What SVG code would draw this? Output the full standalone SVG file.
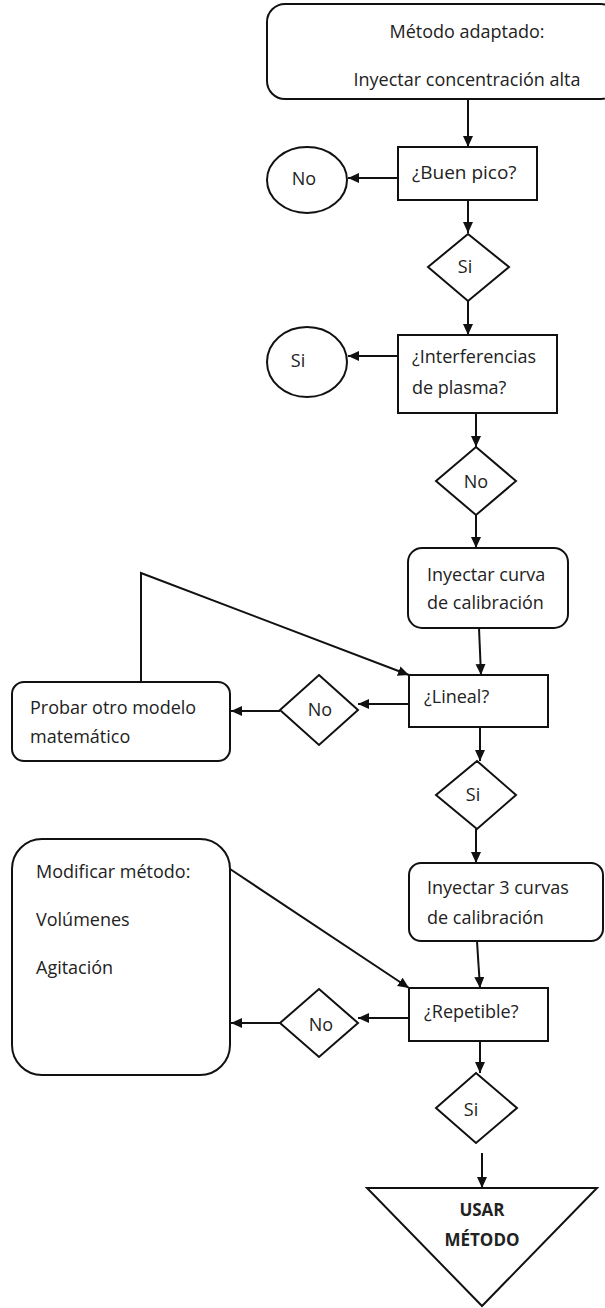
<svg xmlns="http://www.w3.org/2000/svg" width="605" height="1308" viewBox="0 0 605 1308">
<defs>
<marker id="ah" markerUnits="userSpaceOnUse" markerWidth="12" markerHeight="12" refX="11" refY="6" orient="auto">
<path d="M0,1 L11,6 L0,11 Z" fill="#111"/>
</marker>
<style>
.n{fill:#fff;stroke:#111;stroke-width:2}
.t{font-family:"Open Sans","Noto Sans",sans-serif;font-size:18px;fill:#222}
.c{text-anchor:middle}
.b{font-weight:bold;font-size:17px}
.e{fill:none;stroke:#111;stroke-width:2;marker-end:url(#ah)}
.l{fill:none;stroke:#111;stroke-width:2}
</style>
</defs>
<rect width="605" height="1308" fill="#fff"/>
<g id="connectors">
<path class="e" d="M468,99 V147"/>
<path class="e" d="M398,178 H348"/>
<path class="e" d="M468,200 V233"/>
<path class="e" d="M468,301 V335"/>
<path class="e" d="M398,356 H348"/>
<path class="e" d="M476,413 V447"/>
<path class="e" d="M476,515 V548"/>
<path class="e" d="M479,628 L481,675"/>
<path class="e" d="M409,704 H358"/>
<path class="e" d="M280,711 H231"/>
<path class="e" d="M141,682 V573 L409,675"/>
<path class="e" d="M480,727 V761"/>
<path class="e" d="M476,829 V863"/>
<path class="e" d="M477,941 L480,988"/>
<path class="e" d="M409,1018 H358"/>
<path class="e" d="M280,1023 H231"/>
<path class="e" d="M230,869 L409,988"/>
<path class="e" d="M480,1041 V1073"/>
<path class="e" d="M482,1153 V1188"/>
</g>
<g id="start">
<rect class="n" x="267" y="4" width="352" height="95" rx="18"/>
<text class="t c" x="467" y="38">Método adaptado:</text>
<text class="t c" x="467" y="86">Inyectar concentración alta</text>
</g>
<g id="q-buen-pico">
<rect class="n" x="398" y="147" width="139" height="53"/>
<text class="t" x="412" y="179" style="font-size:19px">¿Buen pico?</text>
</g>
<g id="c-no">
<ellipse class="n" cx="307" cy="180" rx="40" ry="33"/>
<text class="t c" x="304" y="185">No</text>
</g>
<g id="d-si-1">
<polygon class="n" points="468,234 509,267 468,301 428,267"/>
<text class="t c" x="465" y="273">Si</text>
</g>
<g id="q-interferencias">
<rect class="n" x="398" y="335" width="159" height="78"/>
<text class="t" x="412" y="363">¿Interferencias</text>
<text class="t" x="412" y="394">de plasma?</text>
</g>
<g id="c-si">
<ellipse class="n" cx="307" cy="362" rx="40" ry="35"/>
<text class="t c" x="298" y="367">Si</text>
</g>
<g id="d-no-1">
<polygon class="n" points="476,447 516,481 476,515 436,481"/>
<text class="t c" x="476" y="488">No</text>
</g>
<g id="p-curva">
<rect class="n" x="408" y="548" width="160" height="80" rx="14"/>
<text class="t" x="427" y="581">Inyectar curva</text>
<text class="t" x="427" y="609">de calibración</text>
</g>
<g id="q-lineal">
<rect class="n" x="409" y="675" width="139" height="52"/>
<text class="t" x="424" y="703">¿Lineal?</text>
</g>
<g id="d-no-2">
<polygon class="n" points="319,675 358,710 319,745 280,710"/>
<text class="t c" x="320" y="716">No</text>
</g>
<g id="p-probar">
<rect class="n" x="12" y="682" width="218" height="79" rx="12"/>
<text class="t" x="30" y="714">Probar otro modelo</text>
<text class="t" x="30" y="743">matemático</text>
</g>
<g id="d-si-2">
<polygon class="n" points="477,761 516,795 477,829 436,795"/>
<text class="t c" x="473" y="801">Si</text>
</g>
<g id="p-3curvas">
<rect class="n" x="409" y="863" width="194" height="78" rx="12"/>
<text class="t" x="427" y="894">Inyectar 3 curvas</text>
<text class="t" x="427" y="924">de calibración</text>
</g>
<g id="q-repetible">
<rect class="n" x="409" y="988" width="139" height="53"/>
<text class="t" x="424" y="1018">¿Repetible?</text>
</g>
<g id="d-no-3">
<polygon class="n" points="319,989 358,1023 319,1057 280,1023"/>
<text class="t c" x="321" y="1031">No</text>
</g>
<g id="p-modificar">
<rect class="n" x="12" y="839" width="218" height="236" rx="30"/>
<text class="t" x="36" y="878">Modificar método:</text>
<text class="t" x="36" y="926">Volúmenes</text>
<text class="t" x="36" y="974">Agitación</text>
</g>
<g id="d-si-3">
<polygon class="n" points="476,1073 517,1108 476,1143 436,1108"/>
<text class="t c" x="471" y="1116">Si</text>
</g>
<g id="end">
<polygon class="n" points="367,1188 597,1188 482,1306"/>
<text class="t c b" x="482" y="1216">USAR</text>
<text class="t c b" x="482" y="1246">MÉTODO</text>
</g>
</svg>
